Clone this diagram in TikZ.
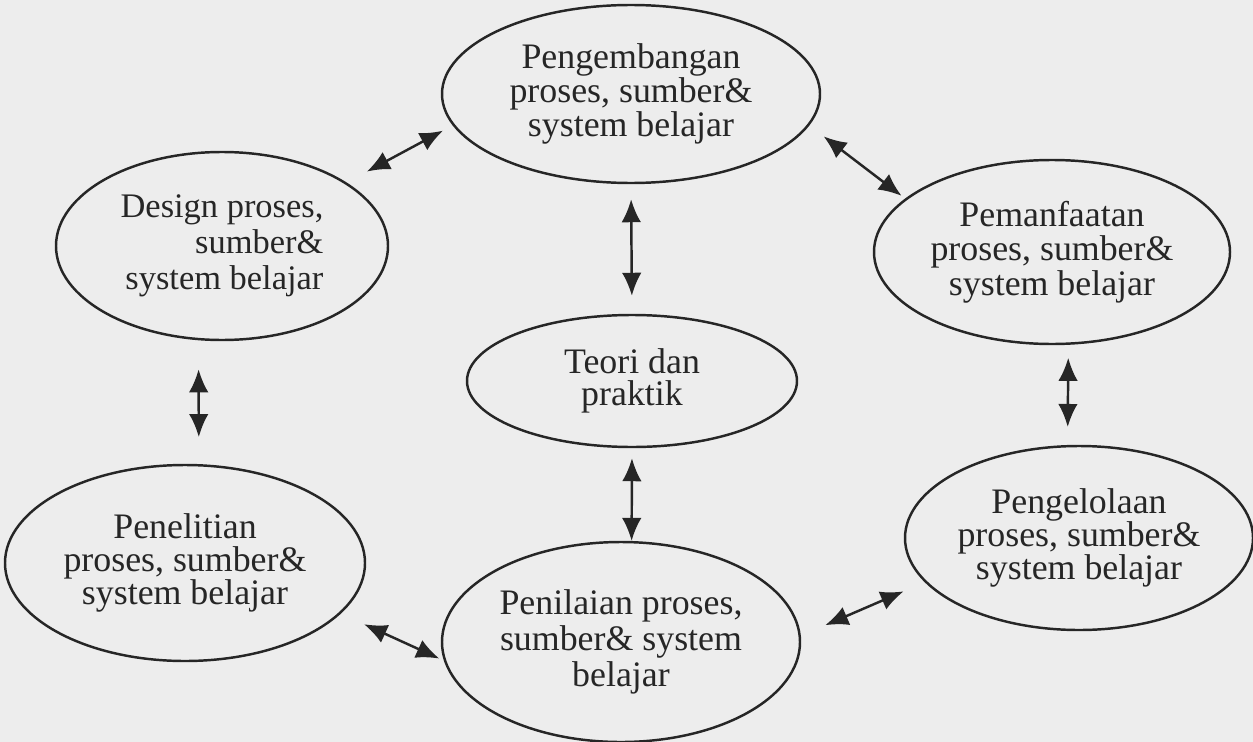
\documentclass[tikz,border=0pt]{standalone}
\usepackage{fontspec}
\setmainfont{Liberation Serif}
\usepackage{xcolor}
\usepackage{tikz}
\usetikzlibrary{arrows.meta,shapes.geometric}
\definecolor{ScanBg}{HTML}{EDEDED}
\definecolor{InkDark}{HTML}{262626}

\begin{document}
\begin{tikzpicture}[
  font=\fontsize{20.4}{18.6}\selectfont, >={Latex[length=4.6mm,width=3.9mm]},
  area/.style 2 args={ellipse,draw=InkDark,line width=1.4pt,text=InkDark,
                      align=center,inner sep=0pt,minimum width=#1cm,minimum height=#2cm},
  leadsk/.style={font=\fontsize{20.4}{#1}\selectfont},
  e/.style={<->,line width=1.4pt,InkDark},
]
\useasboundingbox (0,0) rectangle (25.06,-14.84);
\fill[ScanBg] (0,0) rectangle (25.06,-14.84);

% the six domains round the central "teori dan praktik"
\node[area={7.56}{3.56},leadsk=17.6pt] (kemb) at (12.62,-1.88) {Pengembangan\\proses, sumber\&\\system belajar};
\node[area={6.64}{3.76},align=right,font=\fontsize{19.6}{20.6}\selectfont]
     (dsgn) at (4.44,-4.92) {Design proses,\\sumber\&\\system belajar};
\node[area={7.12}{3.68},leadsk=19.6pt] (manf) at (21.04,-5.04) {Pemanfaatan\\proses, sumber\&\\system belajar};
\node[area={6.6}{2.64},leadsk=18.4pt]  (teori) at (12.64,-7.62) {Teori dan\\praktik};
\node[area={7.2}{3.92},leadsk=18.6pt]  (pnlt) at (3.70,-11.26) {Penelitian\\proses, sumber\&\\system belajar};
\node[area={7.16}{4.0},leadsk=20.5pt]  (pnil) at (12.42,-12.84) {Penilaian proses,\\sumber\& system\\belajar};
\node[area={6.96}{3.68},leadsk=18.6pt] (kelo) at (21.58,-10.76) {Pengelolaan\\proses, sumber\&\\system belajar};

% two-way links; the gaps to the rims come from the shortens
\draw[e,shorten <=4.6mm,shorten >=2.2mm] (dsgn.27)  -- (kemb.190);
\draw[e,shorten <=3.6mm,shorten >=0.9mm] (kemb.350) -- (manf.160);
\draw[e,shorten <=3mm,shorten >=3.6mm]   (kemb.south) -- (teori.north);
\draw[e,shorten <=5.8mm,shorten >=5.4mm] (dsgn.256) -- (pnlt.82);
\draw[e,shorten <=2.6mm,shorten >=3.6mm] (manf.280) -- (kelo.97);
\draw[e,shorten <=2mm]                   (teori.south) -- (pnil.84);
\draw[e,shorten <=5.1mm,shorten >=1mm]   (pnlt.342) -- (pnil.186);
\draw[e,shorten <=5.3mm,shorten >=4.6mm] (pnil.2)   -- (kelo.196);
\end{tikzpicture}
\end{document}
